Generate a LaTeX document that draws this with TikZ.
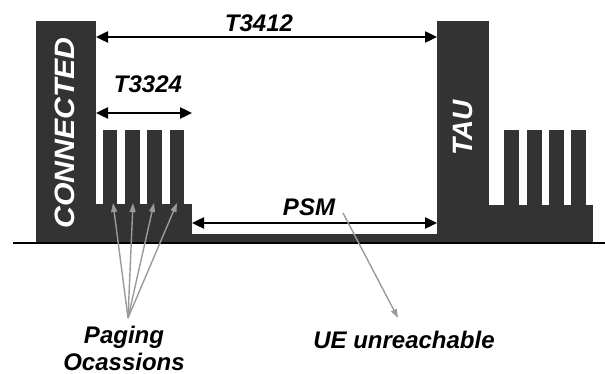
\documentclass[tikz,border=0pt]{standalone}
\usepackage{fontspec}
\setmainfont{Liberation Sans}
\usetikzlibrary{arrows.meta}
\definecolor{blockc}{HTML}{333333}
\definecolor{pointc}{HTML}{9A9A9A}
\tikzset{
  blk/.style={fill=blockc},
  dim/.style={line width=2.4pt,{Triangle[length=12pt,width=11pt]}-{Triangle[length=12pt,width=11pt]}},
  pointer/.style={draw=pointc,line width=1.4pt,-{Triangle[length=9pt,width=6pt]}},
  lbl/.style={font=\fontsize{24}{28}\selectfont\bfseries\itshape,inner sep=0pt,anchor=base},
  vlbl/.style={font=\fontsize{28}{30}\selectfont\bfseries\itshape,text=white,rotate=90,inner sep=0pt}
}
\begin{document}
\begin{tikzpicture}[x=1pt,y=-1pt]
\useasboundingbox (0,0) rectangle (605,374);
% left: connected block, platform, paging fingers
\fill[blk] (36,21) rectangle (96,243);
\fill[blk] (96,204) rectangle (192,243);
\foreach \a/\b in {103/117,125/140,147/162,170/184}
  \fill[blk] (\a,130) rectangle (\b,205);
% low PSM strip
\fill[blk] (191,234) rectangle (438,243);
% TAU block and right platform
\fill[blk] (437,21) rectangle (489,243);
\fill[blk] (488,205) rectangle (593,243);
\foreach \a/\b in {504/519,527/542,549/564,571/586}
  \fill[blk] (\a,130) rectangle (\b,206);
% base line
\draw[line width=2pt] (13,243) -- (605,243);

% block labels
\node[vlbl] (conn) at (65,133) {\scalebox{1.08}[1]{CONNECTED}};
\node[vlbl] (tau) at (463,128) {TAU};

% dimension arrows
\coordinate (t1l) at (96,37);  \coordinate (t1r) at (437,37);
\coordinate (t2l) at (96,113); \coordinate (t2r) at (192,113);
\coordinate (psl) at (192,223); \coordinate (psr) at (437,223);
\draw[dim] (t1l) -- (t1r);
\draw[dim] (t2l) -- (t2r);
\draw[dim] (psl) -- (psr);
\node[lbl] (t3412) at (259,32) {T3412};
\node[lbl] (t3324) at (148,93) {T3324};
\node[lbl] (psm) at (309,216) {PSM};

% paging occasions
\node[lbl] (pag1) at (124,343) {Paging};
\node[lbl] (pag2) at (124,370) {Ocassions};
\coordinate (conv) at (128,318);
\coordinate (f1) at (113,203);
\coordinate (f2) at (133,203);
\coordinate (f3) at (154,203);
\coordinate (f4) at (177,203);
\foreach \f in {f1,f2,f3,f4}
  \draw[pointer] (conv) -- (\f);

% UE unreachable
\node[lbl] (ue) at (404,348) {UE unreachable};
\coordinate (uefrom) at (343,213);
\coordinate (ueto) at (398,318);
\draw[pointer] (uefrom) -- (ueto);
\end{tikzpicture}
\end{document}
